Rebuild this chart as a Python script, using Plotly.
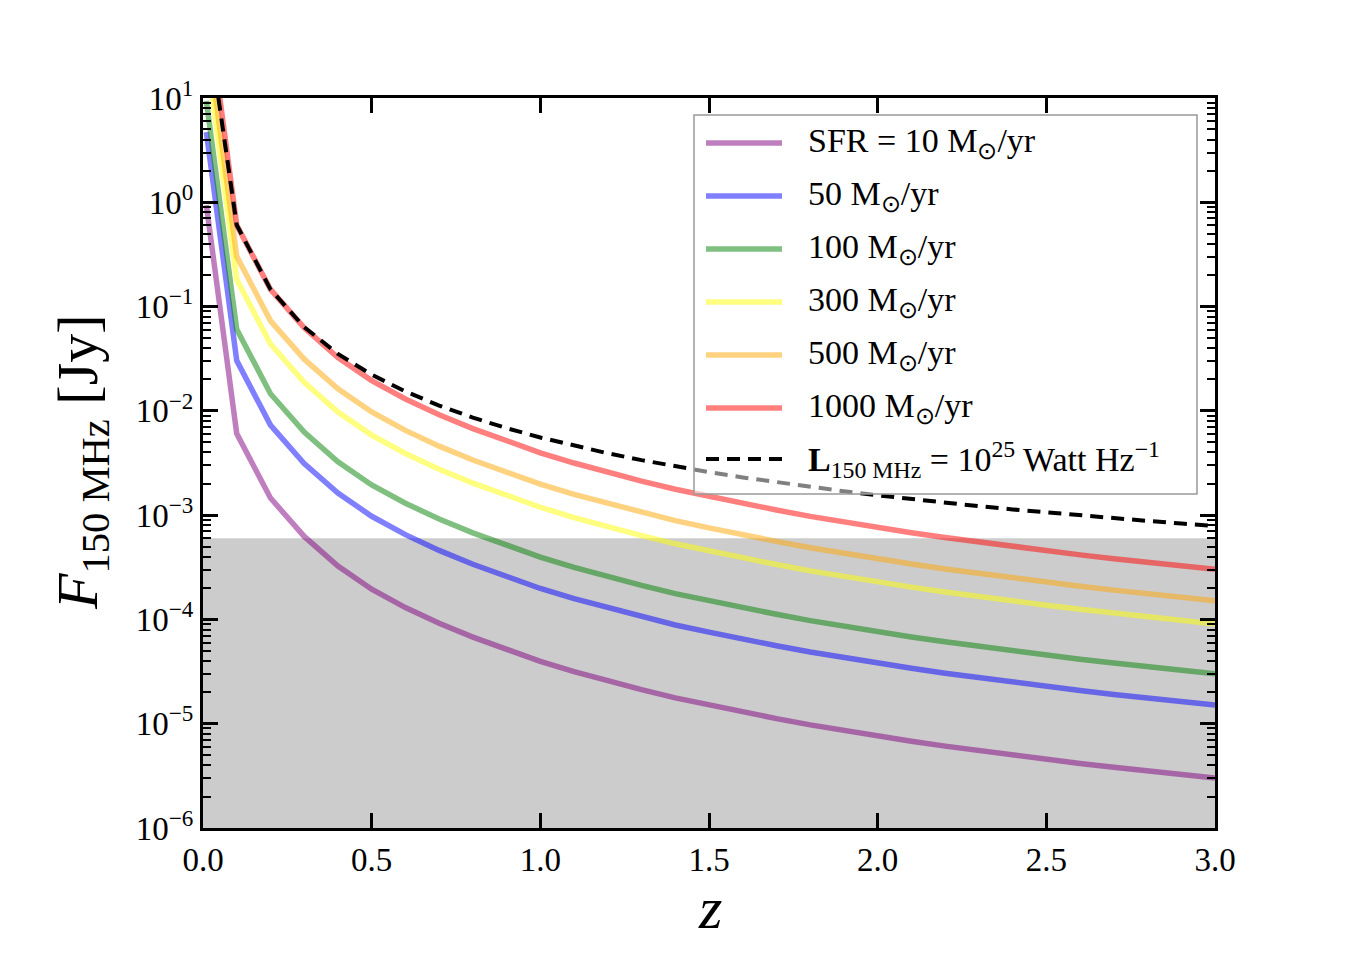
import plotly.graph_objects as go

# ---------------- data ----------------
z = [0.01, 0.1, 0.2, 0.3, 0.4, 0.5, 0.6, 0.7, 0.8, 0.9, 1.0, 1.1, 1.2, 1.3, 1.4, 1.5,
     1.6, 1.7, 1.8, 1.9, 2.0, 2.1, 2.2, 2.3, 2.4, 2.5, 2.6, 2.7, 2.8, 2.9, 3.0]

sfr_10 = [0.94, 0.00605, 0.00146, 0.000625, 0.000325, 0.000195, 0.00013, 9.18e-5, 6.76e-5,
          5.12e-5, 3.96e-5, 3.16e-5, 2.57e-5, 2.12e-5, 1.77e-5, 1.51e-5, 1.29e-5, 1.12e-5,
          9.74e-6, 8.58e-6, 7.61e-6, 6.79e-6, 6.10e-6, 5.51e-6, 4.99e-6, 4.55e-6, 4.16e-6,
          3.82e-6, 3.52e-6, 3.26e-6, 3.02e-6]
sfr_50 = [4.7, 0.0303, 0.0073, 0.00313, 0.00163, 0.000975, 0.00065, 0.000459, 0.000338,
          0.000256, 0.000198, 0.000158, 0.000129, 0.000106, 8.85e-5, 7.55e-5, 6.45e-5, 5.6e-5,
          4.87e-5, 4.29e-5, 3.81e-5, 3.4e-5, 3.05e-5, 2.76e-5, 2.5e-5, 2.28e-5, 2.08e-5,
          1.91e-5, 1.76e-5, 1.63e-5, 1.51e-5]
sfr_100 = [9.4, 0.0605, 0.0146, 0.00625, 0.00325, 0.00195, 0.0013, 0.000918, 0.000676,
           0.000512, 0.000396, 0.000316, 0.000257, 0.000212, 0.000177, 0.000151, 0.000129,
           0.000112, 9.74e-5, 8.58e-5, 7.61e-5, 6.79e-5, 6.10e-5, 5.51e-5, 4.99e-5, 4.55e-5,
           4.16e-5, 3.82e-5, 3.52e-5, 3.26e-5, 3.02e-5]
sfr_300 = [28.2, 0.182, 0.0438, 0.0188, 0.00975, 0.00585, 0.0039, 0.00275, 0.00203, 0.00154,
           0.00119, 0.000948, 0.000771, 0.000636, 0.000531, 0.000453, 0.000387, 0.000336,
           0.000292, 0.000257, 0.000228, 0.000204, 0.000183, 0.000165, 0.00015, 0.000137,
           0.000125, 0.000115, 0.000106, 9.78e-5, 9.06e-5]
sfr_500 = [47.0, 0.303, 0.073, 0.0313, 0.0163, 0.00975, 0.0065, 0.00459, 0.00338, 0.00256,
           0.00198, 0.00158, 0.00129, 0.00106, 0.000885, 0.000755, 0.000645, 0.00056,
           0.000487, 0.000429, 0.000381, 0.00034, 0.000305, 0.000276, 0.00025, 0.000228,
           0.000208, 0.000191, 0.000176, 0.000163, 0.000151]
sfr_1000 = [94.0, 0.605, 0.146, 0.0625, 0.0325, 0.0195, 0.0130, 0.00918, 0.00676, 0.00512,
            0.00396, 0.00316, 0.00257, 0.00212, 0.00177, 0.00151, 0.00129, 0.00112, 0.000974,
            0.000858, 0.000761, 0.000679, 0.000610, 0.000551, 0.000499, 0.000455, 0.000416,
            0.000382, 0.000352, 0.000326, 0.000302]
lum_1e25 = [63.0, 0.605, 0.1464, 0.06355, 0.03515, 0.02224, 0.01534, 0.01124, 0.008612,
            0.006827, 0.005557, 0.004625, 0.003918, 0.003371, 0.002936, 0.002587, 0.0023,
            0.002063, 0.001863, 0.001694, 0.001549, 0.001423, 0.001315, 0.001219, 0.001135,
            0.00106, 0.000993, 0.000934, 0.00088, 0.000831, 0.000787]

band_z = [0.0, 3.0]
band_flux = [1e-6, 6e-4]

series_names = ["SFR = 10 M<sub>⊙</sub>/yr", "50 M<sub>⊙</sub>/yr", "100 M<sub>⊙</sub>/yr",
                "300 M<sub>⊙</sub>/yr", "500 M<sub>⊙</sub>/yr", "1000 M<sub>⊙</sub>/yr"]
dashed_name = "<b>L</b><sub>150 MHz</sub> = 10<sup>25</sup> Watt Hz<sup>−1</sup>"

y_tickvals = [1e-6, 1e-5, 1e-4, 1e-3, 1e-2, 1e-1, 1e0, 1e1]
y_ticktext = ["10<sup>−6</sup>", "10<sup>−5</sup>", "10<sup>−4</sup>", "10<sup>−3</sup>",
              "10<sup>−2</sup>", "10<sup>−1</sup>", "10<sup>0</sup>", "10<sup>1</sup>"]
x_tickvals = [0.0, 0.5, 1.0, 1.5, 2.0, 2.5, 3.0]
x_ticktext = ["0.0", "0.5", "1.0", "1.5", "2.0", "2.5", "3.0"]

colors = ["rgba(128,0,128,0.5)", "rgba(0,0,255,0.5)", "rgba(0,128,0,0.5)",
          "rgba(255,255,0,0.5)", "rgba(255,165,0,0.5)", "rgba(255,0,0,0.5)"]

FONT = "Liberation Serif"
DASH = dict(color="black", width=4, dash="13px,8px")

# ---------------- figure ----------------
fig = go.Figure()

fig.add_trace(go.Scatter(
    x=[band_z[0], band_z[1], band_z[1], band_z[0]],
    y=[band_flux[0], band_flux[0], band_flux[1], band_flux[1]],
    fill="toself", fillcolor="#cccccc", mode="lines",
    line=dict(width=0, color="#cccccc"), hoverinfo="skip", showlegend=False))

for ys, c, n in zip([sfr_10, sfr_50, sfr_100, sfr_300, sfr_500, sfr_1000], colors, series_names):
    fig.add_trace(go.Scatter(x=z, y=ys, mode="lines", name=n,
                             line=dict(color=c, width=5.5), showlegend=False))

fig.add_trace(go.Scatter(x=z, y=lum_1e25, mode="lines", name=dashed_name,
                         line=DASH, showlegend=False))

# plot-area pixel geometry
L, R, T, B = 203, 1215, 98, 828


def px(xp):
    return (xp - L) / (R - L)


def py(yp):
    return (B - yp) / (B - T)


minor_vals = [m * 10 ** e for e in range(-6, 1) for m in range(2, 10)]

fig.update_xaxes(range=[0, 3], tickvals=x_tickvals, ticktext=x_ticktext,
                 ticks="inside", ticklen=15, tickwidth=2.5, tickcolor="black",
                 showline=True, linewidth=3, linecolor="black", mirror="allticks",
                 showgrid=False, zeroline=False,
                 tickfont=dict(family=FONT, size=33, color="black"))
fig.update_yaxes(type="log", range=[-6, 1], tickvals=y_tickvals, ticktext=y_ticktext,
                 ticks="inside", ticklen=15, tickwidth=2.5, tickcolor="black",
                 showline=True, linewidth=3, linecolor="black", mirror="allticks",
                 showgrid=False, zeroline=False,
                 minor=dict(tickvals=minor_vals, ticks="inside", ticklen=8, tickwidth=2,
                            tickcolor="black", showgrid=False),
                 tickfont=dict(family=FONT, size=33, color="black"))

# legend drawn as a framed box
shapes = [dict(type="rect", xref="paper", yref="paper", x0=px(694), x1=px(1197),
               y0=py(494), y1=py(115), fillcolor="rgba(255,255,255,0.5)",
               line=dict(color="#999999", width=1.5), layer="above")]
rows = [143, 196, 249, 302, 355, 408, 459]
annotations = []
for i, (c, n) in enumerate(zip(colors + ["black"], series_names + [dashed_name])):
    ln = dict(color=c, width=5.5)
    if c == "black":
        ln = DASH
    shapes.append(dict(type="line", xref="paper", yref="paper", x0=px(706), x1=px(782),
                       y0=py(rows[i]), y1=py(rows[i]), line=ln, layer="above"))
    annotations.append(dict(xref="paper", yref="paper", x=px(806), y=py(rows[i]),
                            text=n, showarrow=False, xanchor="left", yanchor="middle",
                            font=dict(family=FONT, size=34, color="black")))

# axis titles
annotations.append(dict(xref="paper", yref="paper", x=px(710), y=py(908),
                        text="<i>z</i>", showarrow=False, xanchor="center", yanchor="middle",
                        font=dict(family=FONT, size=60, color="black")))
annotations.append(dict(xref="paper", yref="paper", x=px(82), y=py(462),
                        text="<i>F</i><sub>150 MHz</sub> [Jy]", showarrow=False,
                        textangle=-90, xanchor="center", yanchor="middle",
                        font=dict(family=FONT, size=58, color="black")))

fig.update_layout(width=1350, height=975, autosize=False,
                  margin=dict(l=L, r=1350 - R, t=T, b=975 - B, pad=0),
                  plot_bgcolor="white", paper_bgcolor="white",
                  shapes=shapes, annotations=annotations, showlegend=False)

fig.write_html("out.html")
